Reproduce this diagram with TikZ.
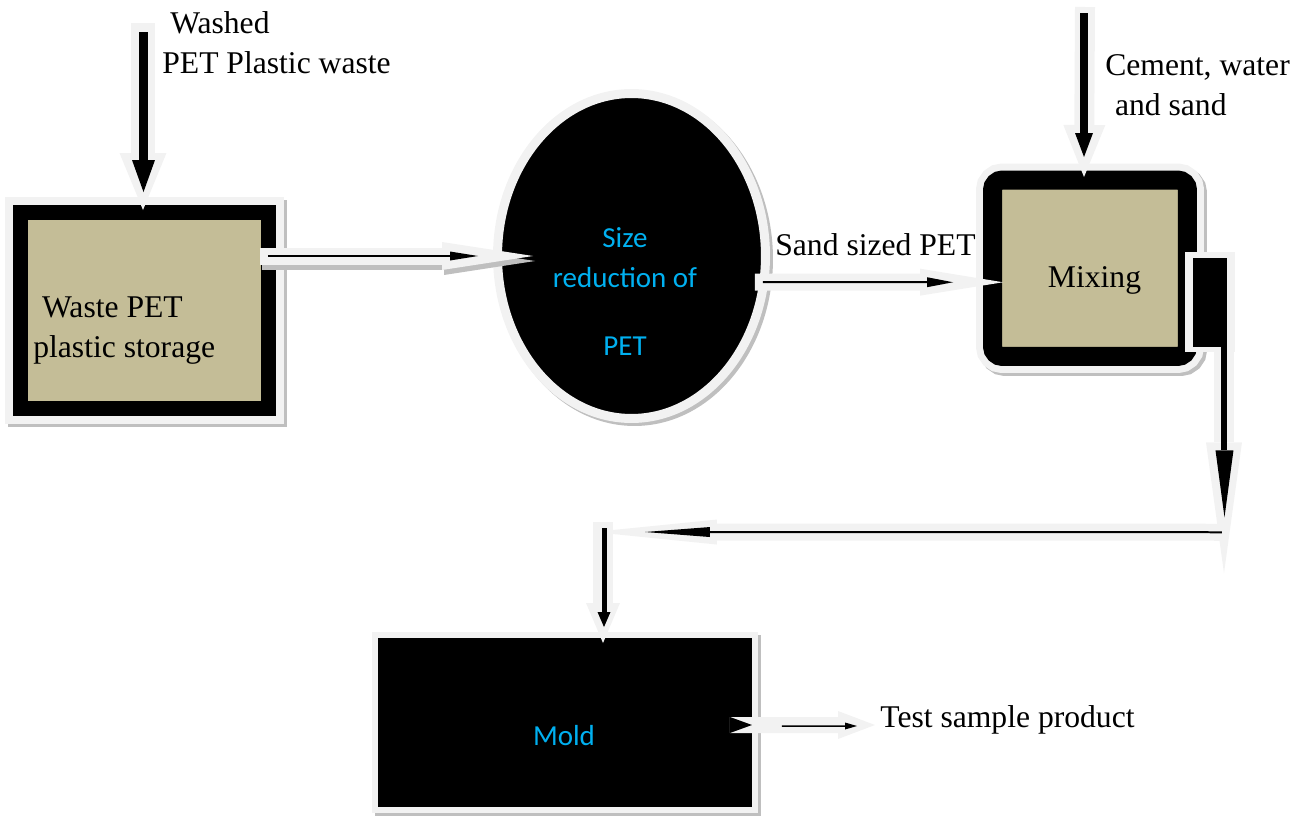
\documentclass[tikz,border=0pt]{standalone}
\usepackage{fontspec}
\setmainfont{Liberation Serif}
\newfontfamily\calibri{Carlito}
\usetikzlibrary{arrows.meta,shapes.geometric}
\definecolor{tanfill}{HTML}{C4BD97}
\definecolor{halogray}{HTML}{F2F2F2}
\definecolor{shadowgray}{HTML}{BFBFBF}
\definecolor{cyantext}{HTML}{00B0F0}
\tikzset{
  lbl/.style={inner sep=0pt, font=\fontsize{18}{22.5}\selectfont, align=left},
  cyanlbl/.style={inner sep=0pt, text=cyantext, font=\calibri\fontsize{16.5}{22.7}\selectfont, align=center},
  halo/.style={draw=halogray, line width=#1},
  core/.style={draw=black, line width=#1},
  boxshadow/.style={preaction={draw=shadowgray, line width=#1, transform canvas={shift={(0.06cm,-0.06cm)}}}},
  boxhalo/.style={preaction={draw=halogray, line width=#1}},
  unit/.style={inner sep=0pt, outer sep=0pt},
}
\begin{document}
\begin{tikzpicture}[x=0.02cm,y=-0.02cm]
\useasboundingbox (0,0) rectangle (1302,818);
% boxes
\node[unit, rectangle, minimum width=4.96cm, minimum height=3.94cm, fill=tanfill, draw=black, line width=0.3cm,
  boxshadow=0.62cm, boxhalo=0.62cm] (store) at (144.5,310.5) {};
\node[unit, ellipse, minimum width=5.36cm, minimum height=6.5cm, fill=black, draw=halogray, line width=0.18cm,
  boxshadow=0.18cm] (ell) at (631.5,256) {};
\node[unit, rectangle, rounded corners=0.2cm, minimum width=3.9cm, minimum height=3.53cm, fill=tanfill, draw=black,
  line width=0.38cm, boxshadow=0.66cm, boxhalo=0.66cm] (mix) at (1090,268.25) {};
\node[unit, rectangle, minimum width=7.6cm, minimum height=3.5cm, fill=black, draw=halogray, line width=0.12cm,
  boxshadow=0.12cm] (mold) at (565,722.5) {};
% texts (base = last line)
\node[lbl, anchor=base west] (storetxt) at (33,357) {\hspace*{5pt}Waste PET\\plastic storage};
\node[cyanlbl, anchor=base] (elltxt) at (625,355) {Size\\reduction of\\[16pt]PET};
\node[lbl, anchor=base] (mixtxt) at (1094.5,287) {Mixing};
\node[cyanlbl, anchor=base] (moldtxt) at (564,745) {Mold};
\node[lbl, anchor=base west] (washtxt) at (162,73) {\hspace*{4.5pt}Washed\\PET Plastic waste};
\node[lbl, anchor=base west] (cementtxt) at (1105,115) {Cement, water\\\hspace*{5.5pt}and sand};
\node[lbl, anchor=base west] (sandtxt) at (775,255) {Sand sized PET};
\node[lbl, anchor=base west] (testtxt) at (880,727) {Test sample product};
% washed PET in
\coordinate (washin) at (143,23);
\draw[halo=0.48cm, -{Triangle[length=1.14cm, width=0.94cm, line width=0pt]}] (washin) -- ([shift={(-1.5,-2)}]store.north);
\draw[core=0.18cm, -{Triangle[length=0.64cm, width=0.46cm, line width=0pt]}] ([shift={(0.5,9)}]washin) -- ([shift={(-1,-20)}]store.north);
% storage to size reduction
\draw[draw=shadowgray, line width=0.34cm, transform canvas={shift={(0.04cm,-0.1cm)}}, -{Triangle[length=1.82cm, width=0.56cm, line width=0pt]}]
  ([shift={(-8.5,-54.5)}]store.east) -- ([shift={(35.5,0)}]ell.west);
\draw[halo=0.34cm, -{Triangle[length=1.82cm, width=0.56cm, line width=0pt]}] ([shift={(-8.5,-54.5)}]store.east) -- ([shift={(35.5,0)}]ell.west);
\draw[core=0.04cm, -{Triangle[length=0.56cm, width=0.18cm, line width=0pt]}] ([shift={(-0.5,-54.5)}]store.east) -- ([shift={(-19.5,0)}]ell.west);
% size reduction to mixing
\draw[halo=0.34cm, -{Triangle[length=1.66cm, width=0.54cm, line width=0pt]}] ([shift={(-10.5,26)}]ell.east) -- ([shift={(10.5,14)}]mix.west);
\draw[core=0.04cm, -{Triangle[length=0.52cm, width=0.2cm, line width=0pt]}] ([shift={(-2.5,26)}]ell.east) -- ([shift={(-39.5,14)}]mix.west);
% cement, water and sand in
\coordinate (cemin) at (1085,7);
\draw[halo=0.4cm, -{Triangle[length=1.04cm, width=0.84cm, line width=0pt]}] (cemin) -- ([shift={(-6,-3)}]mix.north);
\draw[core=0.16cm, -{Triangle[length=0.48cm, width=0.36cm, line width=0pt]}] ([shift={(-1,6)}]cemin) -- ([shift={(-6,-23)}]mix.north);
% mixing outlet
\coordinate (mixout) at ([shift={(22.5,-16)}]mix.east);
\coordinate (turnR) at ([shift={(14,280)}]mixout);
\coordinate (turnL) at (603,532);
\draw[halo=1cm] (mixout) -- ++(0,100);
\draw[halo=0.4cm, -{Triangle[length=2.62cm, width=0.72cm, line width=0pt]}] ([shift={(14,90)}]mixout) -- ([shift={(14,321)}]mixout);
\draw[halo=0.34cm, -{Triangle[length=2.48cm, width=0.5cm, line width=0pt]}] (turnR) -- ([shift={(-10,0)}]turnL);
\draw[halo=0.4cm, -{Triangle[length=0.8cm, width=0.68cm, line width=0pt]}] ([shift={(0,-10)}]turnL) -- ([shift={(38,8)}]mold.north);
\draw[core=0.68cm] ([shift={(0,6)}]mixout) -- ++(0,89);
\draw[core=0.12cm, -{Triangle[length=1.34cm, width=0.36cm, line width=0pt]}] ([shift={(14.5,93)}]mixout) -- ([shift={(14.5,265)}]mixout);
\draw[core=0.04cm, -{Triangle[length=1.3cm, width=0.2cm, line width=0pt]}] ([shift={(-2,0)}]turnR) -- ([shift={(42,0)}]turnL);
\draw[core=0.1cm, -{Triangle[length=0.3cm, width=0.26cm, line width=0pt]}] ([shift={(1,-4)}]turnL) -- ([shift={(39,-8)}]mold.north);
% mold to product (notched tail)
\draw[halo=0.32cm, -{Triangle[length=0.74cm, width=0.56cm, line width=0pt]}] ([shift={(-25,2.5)}]mold.east) -- ([shift={(-5,-2)}]testtxt.base west);
\fill[black] ([shift={(-25,-5.5)}]mold.east) -- ([shift={(-3,2.5)}]mold.east) -- ([shift={(-25,10.5)}]mold.east) -- cycle;
\draw[core=0.03cm, -{Triangle[length=0.24cm, width=0.14cm, line width=0pt]}] ([shift={(27,3.5)}]mold.east) -- ([shift={(-23,-1)}]testtxt.base west);
\end{tikzpicture}
\end{document}
